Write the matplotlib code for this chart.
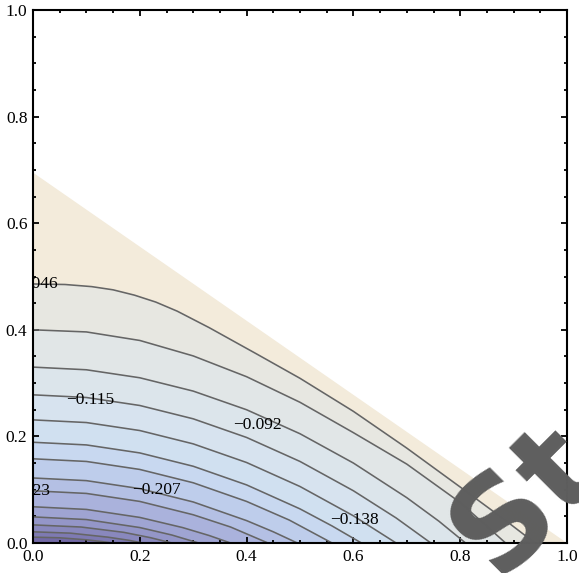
import matplotlib.pyplot as plt
from matplotlib.ticker import MultipleLocator

# contour levels, top (least negative) to bottom
levels = [-0.046, -0.069, -0.092, -0.115, -0.138, -0.161, -0.184, -0.207,
          -0.230, -0.253, -0.276, -0.299, -0.322, -0.345]

# each contour line: left edge (x=0) down to the x axis
line_x = [
    [0, 0.06, 0.11, 0.15, 0.19, 0.23, 0.27, 0.33, 0.42, 0.50, 0.60, 0.70, 0.80, 0.88, 0.94],
    [0, 0.1, 0.2, 0.3, 0.4, 0.5, 0.6, 0.7, 0.8, 0.885],
    [0, 0.1, 0.2, 0.3, 0.4, 0.5, 0.6, 0.7, 0.76, 0.81],
    [0, 0.1, 0.2, 0.3, 0.4, 0.5, 0.6, 0.68, 0.745],
    [0, 0.1, 0.2, 0.3, 0.4, 0.5, 0.6, 0.68],
    [0, 0.1, 0.2, 0.3, 0.4, 0.5, 0.56, 0.615],
    [0, 0.1, 0.2, 0.3, 0.4, 0.48, 0.56],
    [0, 0.1, 0.2, 0.3, 0.4, 0.45, 0.495],
    [0, 0.1, 0.2, 0.3, 0.37, 0.44],
    [0, 0.1, 0.2, 0.28, 0.33, 0.37],
    [0, 0.1, 0.2, 0.26, 0.31],
    [0, 0.09, 0.17, 0.22, 0.26],
    [0, 0.07, 0.14, 0.18, 0.205],
    [0, 0.05, 0.10, 0.13, 0.148],
]
line_y = [
    [0.486, 0.485, 0.481, 0.475, 0.465, 0.452, 0.435, 0.404, 0.354, 0.309, 0.247, 0.178, 0.105, 0.046, 0],
    [0.400, 0.396, 0.380, 0.351, 0.312, 0.264, 0.207, 0.148, 0.076, 0],
    [0.330, 0.325, 0.310, 0.285, 0.250, 0.205, 0.150, 0.085, 0.041, 0],
    [0.278, 0.273, 0.258, 0.233, 0.198, 0.153, 0.098, 0.047, 0],
    [0.231, 0.226, 0.211, 0.186, 0.151, 0.106, 0.051, 0],
    [0.189, 0.184, 0.169, 0.144, 0.109, 0.064, 0.032, 0],
    [0.158, 0.153, 0.138, 0.113, 0.078, 0.043, 0],
    [0.122, 0.117, 0.102, 0.077, 0.042, 0.021, 0],
    [0.098, 0.093, 0.078, 0.053, 0.030, 0],
    [0.068, 0.063, 0.048, 0.029, 0.014, 0],
    [0.049, 0.044, 0.029, 0.015, 0],
    [0.034, 0.030, 0.020, 0.010, 0],
    [0.021, 0.0185, 0.011, 0.005, 0],
    [0.011, 0.0098, 0.006, 0.0026, 0],
]

# domain corners (triangle) and band colours, top band first
domain_x = [0, 1.0]
domain_y = [0.695, 0]
band_colors = ["#f3ebdb", "#e7e7e1", "#e1e6e7", "#dce5eb", "#d7e3ef",
               "#d0e0f0", "#c8d8f0", "#becdeb", "#b4c0e4", "#aab2dc",
               "#9fa4d2", "#9496c8", "#8988bd", "#7e7ab2", "#7269a6"]

# contour labels: (x, y, level index)
label_x = [0.0, 0.107, 0.421, 0.602, 0.232, -0.005]
label_y = [0.486, 0.268, 0.221, 0.043, 0.099, 0.098]
label_lvl = [0, 3, 2, 4, 7, 8]

SERIF = "Liberation Serif"

fig = plt.figure(figsize=(5.79, 5.73), dpi=100)
ax = fig.add_axes([33 / 579, 30 / 573, 534 / 579, 533 / 573])

# filled bands between consecutive contour lines
top_x = domain_x + line_x[0][::-1]
top_y = domain_y + line_y[0][::-1]
ax.fill(top_x, top_y, color=band_colors[0], lw=0)
for i in range(len(line_x) - 1):
    bx = line_x[i] + line_x[i + 1][::-1]
    by = line_y[i] + line_y[i + 1][::-1]
    ax.fill(bx, by, color=band_colors[i + 1], lw=0)
ax.fill(line_x[-1] + [0], line_y[-1] + [0], color=band_colors[-1], lw=0)

for xs, ys in zip(line_x, line_y):
    ax.plot(xs, ys, color="#656565", lw=1.15, solid_capstyle="butt",
            solid_joinstyle="round")

for lx, ly, li in zip(label_x, label_y, label_lvl):
    ax.text(lx, ly, f"{levels[li]:g}".replace("-", "\u2212"), ha="center",
            va="center", fontsize=12.5, family=SERIF, color="black",
            clip_on=True, zorder=5)

ax.set_xlim(0, 1)
ax.set_ylim(0, 1)
ax.xaxis.set_major_locator(MultipleLocator(0.2))
ax.yaxis.set_major_locator(MultipleLocator(0.2))
ax.xaxis.set_minor_locator(MultipleLocator(0.05))
ax.yaxis.set_minor_locator(MultipleLocator(0.05))
ax.xaxis.set_major_formatter(lambda v, p: f"{v:.1f}")
ax.yaxis.set_major_formatter(lambda v, p: f"{v:.1f}")
ax.tick_params(which="both", direction="in", top=True, right=True,
               width=1.3, color="black")
ax.tick_params(which="major", length=4.5, pad=4, labelsize=12.5)
ax.tick_params(which="minor", length=2.3)
for lab in ax.get_xticklabels() + ax.get_yticklabels():
    lab.set_family(SERIF)
for sp in ax.spines.values():
    sp.set_linewidth(1.5)

# watermark letters across the lower right corner
fig.text(0.860, -0.010, "St", rotation=45, rotation_mode="anchor",
         fontsize=92, fontweight="bold", color="#5e5e5e", family="DejaVu Sans",
         zorder=10)

fig.savefig("out.png", dpi=100)
